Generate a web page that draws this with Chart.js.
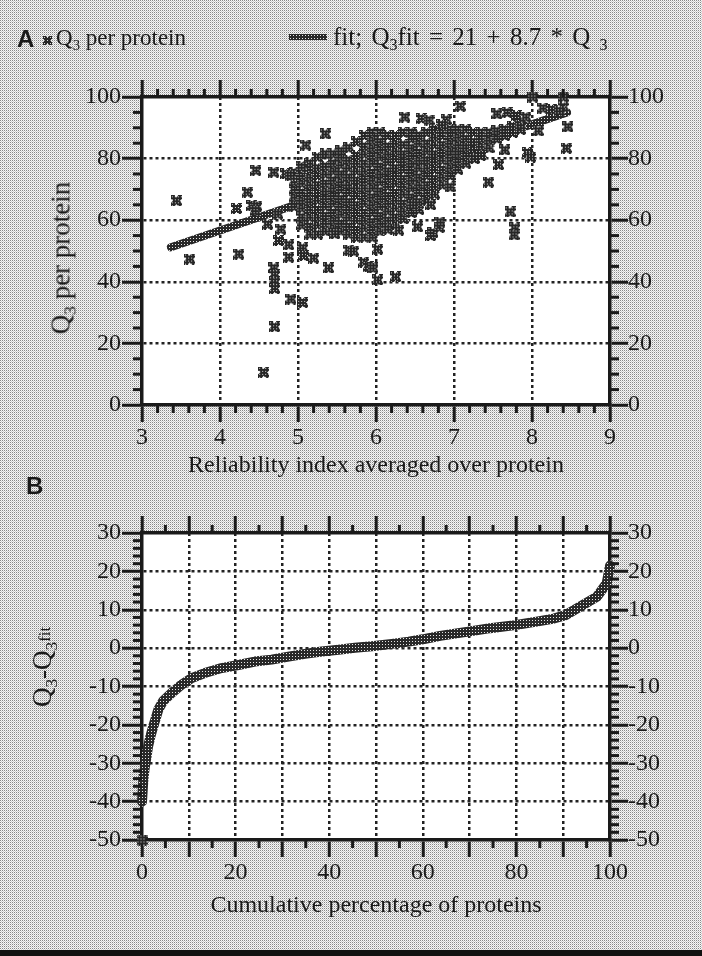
<!DOCTYPE html>
<html><head><meta charset="utf-8">
<script src="https://cdn.jsdelivr.net/npm/chart.js@4.4.1/dist/chart.umd.min.js"></script>
<style>
html,body{margin:0;padding:0;}
body{width:702px;height:956px;position:relative;overflow:hidden;background-color:#cfcfcf;font-family:'Liberation Serif','Times New Roman',serif;color:#1a1a1a;}
canvas.chart{position:absolute;left:0;}
#cA{top:0}
#cB{top:478px}
.t{position:absolute;white-space:nowrap;line-height:1;}
.panel{font-family:'Liberation Sans',Arial,sans-serif;font-weight:bold;font-size:24px;}
.sub{font-size:64%;position:relative;top:0.32em;}
.fit{font-size:62%;position:relative;top:-0.05em;}
.rot{transform:translate(-50%,-50%) rotate(-90deg);}
.bar{position:absolute;left:0;top:950px;width:702px;height:6px;background:#111;}
#legLine{position:absolute;left:289px;top:34px;width:38px;height:6px;}
#legMark{position:absolute;left:43px;top:36px;}
</style></head><body>
<canvas class="chart" id="cA" width="702" height="478"></canvas>
<canvas class="chart" id="cB" width="702" height="472"></canvas>
<div class="t panel" style="left:17px;top:27px">A</div>
<div class="t panel" style="left:26px;top:474px">B</div>
<canvas id="legMark" width="9" height="9"></canvas>
<div class="t" style="left:56px;top:26px;font-size:23px">Q<span class="sub">3</span> per protein</div>
<div id="legLine"></div>
<div class="t" style="left:333px;top:24px;font-size:25px;word-spacing:3px">fit; Q<span class="sub">3</span>fit = 21 + 8.7 * Q <span class="sub">3</span></div>
<div class="t rot" style="left:61px;top:258px;font-size:27px">Q<span class="sub">3</span> per protein</div>
<div class="t rot" style="left:42px;top:667px;font-size:27px">Q<span class="sub">3</span>-Q<span class="sub">3</span><span class="fit">fit</span></div>
<div class="bar"></div>
<script>
// ---------- Panel A data ----------
const cloudX = [4.95,5.05,5.15,5.25,5.35,5.45,5.55,5.65,5.75,5.85,5.95,6.05,6.15,6.25,6.35,6.45,6.55,6.65,6.75,6.85,6.95,7.05,7.15,7.25,7.35,7.45,7.55,7.65,7.75,7.85];
const cloudY = [
 [64.5,67.5,70,72.5,75.5],
 [58.5,61,64,66.5,69,72,74.5,77.5],
 [55.5,58,61,63.5,66,69,71.5,74,76.5,78.5],
 [55.5,58.5,61,63.5,66.5,69,71.5,74.5,77,80.5],
 [56.5,59,61.5,64.5,67,69.5,72,75,77.5,81.5],
 [57.5,60,62.5,65.5,68,70.5,73,76,78.5,81.5],
 [56.5,59,62,64.5,67,70,72.5,75,78,80.5,82.5],
 [55.5,58,61,63.5,66,69,71.5,74,77,79.5,83.5],
 [54.5,57,60,62.5,65,68,70.5,73,76,78.5,81,85.5],
 [54.5,57.5,60,62.5,65.5,68,70.5,73.5,76,78.5,81.5,84,87.5],
 [54.5,57,59.5,62.5,65,67.5,70.5,73,75.5,78.5,81,83.5,86,88.5],
 [56.5,59,61.5,64.5,67,69.5,72.5,75,77.5,80.5,83,85.5,88.5],
 [57.5,60,63,65.5,68,71,73.5,76,79,81.5,84,87.5],
 [58.5,61,64,66.5,69,72,74.5,77,80,82.5,85,87.5],
 [60.5,63,65.5,68.5,71,73.5,76.5,79,81.5,84.5,88.5],
 [62.5,65,67.5,70.5,73,75.5,78.5,81,83.5,86.5,88.5],
 [63.5,66,69,71.5,74,77,79.5,82,85,87.5],
 [66.5,69,71.5,74.5,77,79.5,82.5,85,88.5],
 [68.5,71,73.5,76.5,79,81.5,84.5,87,89.5],
 [71.5,74,76.5,79.5,82,84.5,87.5,89.5],
 [74.5,77,79.5,82.5,85,87.5,89.5],
 [76.5,79,81.5,84.5,87,89.5],
 [78.5,81,83.5,86.5,89.5],
 [80.5,83,85.5,88.5],
 [81.5,84,86.5,88.5],
 [83.5,86,88.5],
 [86.5,89],
 [87.5,89.5],
 [88.5,90.5],
 [89.5,91]
];
const outliers = [
 [3.44,66.3],[3.61,47.4],[4.24,49.0],[4.56,10.6],[4.70,25.4],
 [4.69,44.5],[4.70,42.3],[4.70,40.0],[4.70,37.8],
 [4.91,34.4],[5.06,33.3],[4.88,48.0],[4.88,52.0],[5.06,51.0],[5.07,48.5],[5.20,47.7],[5.39,44.5],
 [4.75,53.4],[4.78,57.1],[4.61,58.7],[4.74,62.0],[4.21,63.8],[4.35,69.1],[4.41,64.8],[4.47,64.6],[4.45,63.1],
 [4.46,76.2],[4.69,75.6],[4.84,75.1],[4.90,74.6],
 [5.35,88.0],[5.10,84.4],[5.04,77.2],
 [5.65,50.3],[5.71,50.0],[5.84,46.4],[5.90,45.0],[5.96,44.5],[6.02,50.6],[6.02,40.6],
 [6.25,41.6],[6.53,57.8],[6.70,55.0],[6.73,56.0],[6.81,57.7],[6.29,56.8],[6.15,57.1],[5.47,55.6],
 [6.95,70.8],[6.70,65.0],[6.47,65.0],[6.82,59.4],[7.44,72.4],[7.57,78.0],[7.65,82.8],[7.94,82.0],[7.98,80.5],
 [7.72,62.7],[7.78,57.5],[7.77,55.2],[8.44,83.4],[8.46,90.3],[8.40,96.8],[8.40,100],[8.01,100],[7.08,97.0],
 [6.37,93.5],[6.58,93.0],[6.68,92.5],[6.90,92.6],[6.84,91.0],
 [7.55,94.5],[7.68,95.0],[7.80,94.0],[7.92,93.5],
 [8.14,96.4],[8.25,96.0],[8.35,95.5],[8.08,89.0],
 [7.26,80.0],[7.34,81.0]
];
const fitLine = [[3.37,51.2],[8.45,95.0]];

// ---------- Panel B data ----------
const cumPct = [0,0.3,0.6,1.0,1.3,1.8,2.4,3.0,3.5,4.5,6.3,8.4,10.6,13.4,17,20.6,24.1,27.7,31.3,34.8,38.4,42,45.5,49.1,53.4,57,60,63.7,66.5,69.7,74.4,79.7,84.3,88,90.5,93.6,97.2,99.3,100];
const resid  = [-40,-34,-31,-28,-25.6,-23,-20.4,-18,-16,-13.8,-11.7,-9.6,-7.8,-6.5,-5.2,-4.4,-3.5,-3.0,-2.2,-1.5,-0.9,-0.4,0.1,0.5,1.1,1.7,2.3,3.2,3.7,4.3,5.2,6.0,6.9,7.7,8.6,10.8,13.4,16.9,21.5];
const lowestPoint = [[0,-50]];

// ---------- drawing helpers ----------
const INK = '#1a1a1a';
function makeTile(w,h,fn){const c=document.createElement('canvas');c.width=w;c.height=h;const x=c.getContext('2d');const im=x.createImageData(w,h);for(let j=0;j<h;j++)for(let i=0;i<w;i++){const v=fn(i,j);const k=(j*w+i)*4;im.data[k]=im.data[k+1]=im.data[k+2]=v<0?0:v;im.data[k+3]=v<0?0:255;}x.putImageData(im,0,0);return c;}
const bgTile = makeTile(2,2,(i,j)=> (i===0&&j===0)?135:(i===1&&j===1)?205:246);
document.body.style.backgroundImage = 'url('+bgTile.toDataURL()+')';
const inkTile = makeTile(3,3,(i,j)=> (i===1&&j===1)?230:40);
const legLine = document.getElementById('legLine');
legLine.style.backgroundImage = 'url('+inkTile.toDataURL()+')';

// halftone "x" marker: a square with notched sides, filled with dark screen
function makeMarker(n,w){return makeTile(n,n,(i,j)=>{const m=n-1;const inX=Math.abs(i-j)<=n*w||Math.abs(i+j-m)<=n*w;if(!inX)return -1;return (i%3===1&&j%3===1)?215:38;});}
const marker = makeMarker(11,0.3);
document.getElementById('legMark').getContext('2d').drawImage(makeMarker(9,0.27),0,0);

const plotBg = {id:'plotBg', beforeDraw(chart){const {ctx,chartArea:a}=chart;ctx.save();ctx.fillStyle='#fff';ctx.fillRect(a.left,a.top,a.right-a.left,a.bottom-a.top);ctx.restore();}};
const minorTicks = {id:'minorTicks', afterDraw(chart,args,opts){
  const ctx=chart.ctx,a=chart.chartArea;ctx.save();ctx.strokeStyle=INK;ctx.lineWidth=3;
  for(const [id,cfg] of Object.entries(opts.scales||{})){
    const s=chart.scales[id]; if(!s) continue;
    const n=Math.round((s.max-s.min)/cfg.step);
    for(let i=0;i<=n;i++){
      const v=s.min+i*cfg.step; const r=v/cfg.major;
      if(Math.abs(r-Math.round(r))<1e-6) continue;
      const p=s.getPixelForValue(v); ctx.beginPath();
      if(s.position==='left'){ctx.moveTo(a.left-cfg.len,p);ctx.lineTo(a.left,p);}
      else if(s.position==='right'){ctx.moveTo(a.right,p);ctx.lineTo(a.right+cfg.len,p);}
      else if(s.position==='top'){ctx.moveTo(p,a.top-cfg.len);ctx.lineTo(p,a.top);}
      else {ctx.moveTo(p,a.bottom);ctx.lineTo(p,a.bottom+cfg.len);}
      ctx.stroke();
    }
  }
  ctx.restore();
}};

const tickFont = {family:"'Liberation Serif','Times New Roman',serif", size:24, lineHeight:1};
function gridColor(min,max){return c=> (c.tick && (Math.abs(c.tick.value-min)<1e-9 || Math.abs(c.tick.value-max)<1e-9)) ? 'rgba(0,0,0,0)' : '#222';}
function axis(pos,min,max,step,opt){
  const o = {type:'linear',position:pos,min,max,
    ticks:{stepSize:step,font:tickFont,color:INK,padding:opt.pad||0,maxRotation:0,minRotation:0,autoSkip:false,display:opt.labels!==false,callback:opt.cb||(v=>String(v))},
    grid:{display:true,drawOnChartArea:!!opt.grid,color:gridColor(min,max),lineWidth:2.5,tickLength:opt.tl,tickWidth:3,tickColor:INK},
    border:{display:true,width:3.5,color:INK,dash:[3,3]},
    afterFit:s=>{ if(pos==='left'||pos==='right') s.width=opt.size; else s.height=opt.size; }
  };
  if(opt.title) o.title={display:true,text:opt.title,color:INK,font:{family:tickFont.family,size:24,lineHeight:1},padding:{top:0,bottom:opt.tpad||0}};
  return o;
}
Chart.defaults.animation=false;

const scatterA = [];
cloudX.forEach((x,i)=>cloudY[i].forEach(y=>scatterA.push({x,y})));
outliers.forEach(p=>scatterA.push({x:p[0],y:p[1]}));

const ctxA=document.getElementById('cA').getContext('2d');
const linePatA=ctxA.createPattern(inkTile,'repeat');
new Chart(ctxA,{
  type:'scatter',
  data:{datasets:[
    {label:'Q3 per protein',data:scatterA,pointStyle:marker,pointRadius:5,pointHoverRadius:5,clip:false,showLine:false},
    {label:'fit',data:fitLine.map(p=>({x:p[0],y:p[1]})),showLine:true,borderColor:linePatA,borderWidth:8,borderCapStyle:'round',pointRadius:0}
  ]},
  options:{responsive:false,devicePixelRatio:1,animation:false,events:[],
    layout:{padding:0},
    plugins:{legend:{display:false},tooltip:{enabled:false},
      minorTicks:{scales:{x:{step:0.2,major:1,len:8},x2:{step:0.2,major:1,len:8},y:{step:5,major:20,len:9},y2:{step:5,major:20,len:9}}}},
    scales:{
      x: axis('bottom',3,9,1,{grid:true,tl:17,pad:4,size:73,title:'Reliability index averaged over protein',tpad:0}),
      x2:axis('top',3,9,1,{labels:false,tl:17,size:97}),
      y: axis('left',0,100,20,{grid:true,tl:20,pad:1,size:142}),
      y2:axis('right',0,100,20,{tl:18,pad:0,size:92})
    }
  },
  plugins:[plotBg,minorTicks]
});

const ctxB=document.getElementById('cB').getContext('2d');
const linePatB=ctxB.createPattern(inkTile,'repeat');
new Chart(ctxB,{
  type:'scatter',
  data:{datasets:[
    {label:'residual',data:cumPct.map((x,i)=>({x,y:resid[i]})),showLine:true,borderColor:linePatB,borderWidth:10,borderCapStyle:'round',borderJoinStyle:'round',pointRadius:0,clip:false},
    {label:'lowest',data:lowestPoint.map(p=>({x:p[0],y:p[1]})),pointStyle:marker,pointRadius:5,clip:false}
  ]},
  options:{responsive:false,devicePixelRatio:1,animation:false,events:[],
    layout:{padding:0},
    plugins:{legend:{display:false},tooltip:{enabled:false},
      minorTicks:{scales:{x:{step:5,major:10,len:8},x2:{step:5,major:10,len:8},y:{step:2,major:10,len:9},y2:{step:2,major:10,len:9}}}},
    scales:{
      x: axis('bottom',0,100,10,{grid:true,tl:17,pad:4,size:110,cb:v=>(v%20===0?String(v):''),title:'Cumulative percentage of proteins',tpad:32}),
      x2:axis('top',0,100,10,{labels:false,tl:17,size:55}),
      y: axis('left',-50,30,10,{grid:true,tl:20,pad:1,size:142}),
      y2:axis('right',-50,30,10,{tl:18,pad:0,size:92})
    }
  },
  plugins:[plotBg,minorTicks]
});
</script>
</body></html>
